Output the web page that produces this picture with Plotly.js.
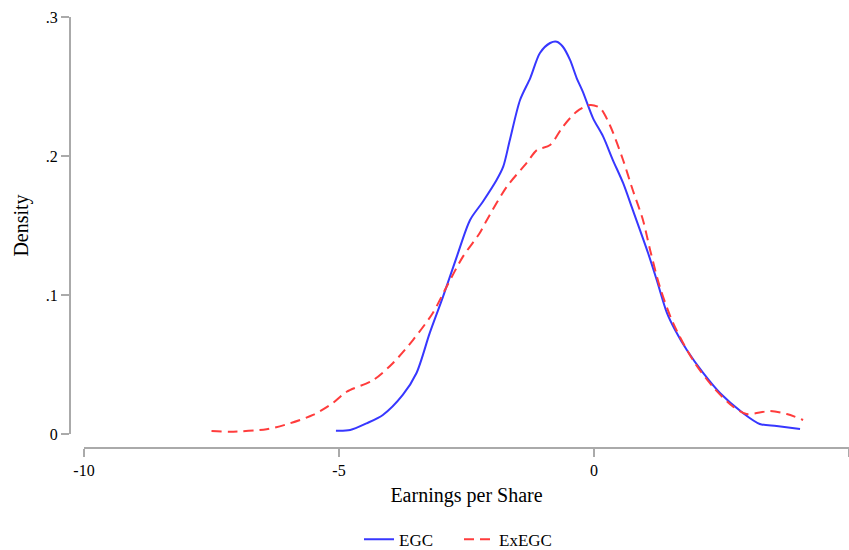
<!DOCTYPE html>
<html>
<head>
<meta charset="utf-8">
<script src="https://cdn.plot.ly/plotly-3.0.1.min.js"></script>
<style>html,body{margin:0;padding:0;background:#fff;}#chart{width:849px;height:550px;}</style>
</head>
<body>
<div id="chart"></div>
<script>
const egcX = [-5.06,-4.78,-4.46,-4.14,-3.75,-3.48,-3.22,-2.96,-2.69,-2.43,-2.18,-1.91,-1.78,-1.65,-1.45,-1.25,-1.06,-0.86,-0.73,-0.61,-0.47,-0.34,-0.22,-0.02,0.18,0.37,0.57,0.76,1.06,1.23,1.43,1.59,1.82,2.14,2.47,2.92,3.25,3.58,4.04];
const egcY = [0.0024,0.0029,0.0077,0.0137,0.0281,0.0439,0.0727,0.0988,0.1276,0.1540,0.1671,0.1827,0.1923,0.2115,0.2403,0.2561,0.2741,0.2813,0.2822,0.2786,0.2691,0.2561,0.2463,0.2273,0.2139,0.1971,0.1806,0.1612,0.1302,0.1108,0.0871,0.0748,0.0604,0.0439,0.0295,0.0151,0.0072,0.0058,0.0036];
const exX = [-7.50,-7.14,-6.42,-5.96,-5.51,-5.12,-4.85,-4.33,-3.94,-3.55,-3.16,-2.89,-2.57,-2.24,-2.10,-1.71,-1.32,-1.12,-0.86,-0.61,-0.34,-0.08,0.12,0.31,0.57,0.76,0.96,1.10,1.29,1.55,1.94,2.33,2.73,2.99,3.45,3.78,4.10];
const exY = [0.0022,0.0017,0.0034,0.0077,0.0137,0.0223,0.0304,0.0388,0.0511,0.0676,0.0871,0.1060,0.1276,0.1446,0.1540,0.1779,0.1950,0.2043,0.2079,0.2211,0.2319,0.2367,0.2345,0.2223,0.1971,0.1755,0.1540,0.1324,0.1060,0.0799,0.0532,0.0340,0.0196,0.0144,0.0165,0.0144,0.0101];
const xTicks = [-10, -5, 0, 5];
const xTickText = ['-10', '-5', '0', '5'];
const yTicks = [0, 0.1, 0.2, 0.3];
const yTickText = ['0', '.1', '.2', '.3'];

const axisGray = 'rgb(170,170,170)';
const traces = [
  {x: egcX, y: egcY, type: 'scatter', mode: 'lines', name: 'EGC',
   line: {color: 'rgb(55,55,255)', width: 2, shape: 'spline', smoothing: 0.8}},
  {x: exX, y: exY, type: 'scatter', mode: 'lines', name: 'ExEGC',
   line: {color: 'rgb(255,60,60)', width: 2, dash: '10px,6px', shape: 'spline', smoothing: 0.8}}
];
const layout = {
  width: 849, height: 550,
  margin: {l: 69, r: 0, t: 17, b: 103, autoexpand: false},
  paper_bgcolor: '#fff', plot_bgcolor: '#fff',
  font: {family: 'Liberation Serif, Times New Roman, serif', color: '#000', size: 16},
  showlegend: true,
  legend: {orientation: 'h', x: 0.5, xanchor: 'center', y: -0.174, yanchor: 'top',
           font: {size: 17}, itemwidth: 30, entrywidth: 55, entrywidthmode: 'pixels', tracegroupgap: 0},
  xaxis: {
    domain: [15/780, 1], anchor: 'free', position: 0,
    range: [-10, 5], tickvals: xTicks, ticktext: xTickText,
    showline: true, linecolor: axisGray, linewidth: 1.5,
    ticks: 'outside', ticklen: 8, tickcolor: axisGray, tickwidth: 1.5,
    showgrid: false, zeroline: false,
    tickfont: {size: 16},
    title: {text: 'Earnings per Share', font: {size: 20}, standoff: 10}
  },
  yaxis: {
    domain: [13/430, 1], anchor: 'free', position: 0,
    range: [0, 0.3], tickvals: yTicks, ticktext: yTickText,
    showline: true, linecolor: axisGray, linewidth: 1.5,
    ticks: 'outside', ticklen: 8, tickcolor: axisGray, tickwidth: 1.5,
    showgrid: false, zeroline: false,
    tickfont: {size: 16},
    title: {text: 'Density', font: {size: 20}, standoff: 10}
  }
};
Plotly.newPlot('chart', traces, layout, {displayModeBar: false, staticPlot: true});
</script>
</body>
</html>
